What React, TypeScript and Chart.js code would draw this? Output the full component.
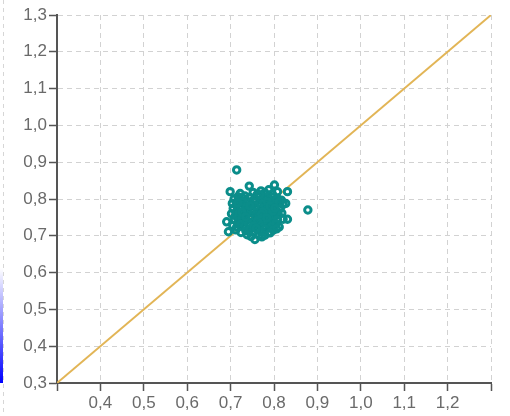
import React, { useEffect, useRef } from "react";
import { Chart, registerables } from "chart.js";

Chart.register(...registerables);

const tickValues = [0.3, 0.4, 0.5, 0.6, 0.7, 0.8, 0.9, 1.0, 1.1, 1.2, 1.3];
const hiddenXLabels = [0.3, 1.3];
const diagonalX = [0.3, 1.3];
const diagonalY = [0.3, 1.3];

const xValues = [
  0.699, 0.722, 0.743, 0.752, 0.761, 0.770, 0.779, 0.788, 0.796, 0.801, 0.808, 0.831, 0.733, 0.717,
  0.708, 0.718, 0.727, 0.736, 0.745, 0.754, 0.763, 0.772, 0.781, 0.790, 0.799, 0.808, 0.817,
  0.704, 0.713, 0.722, 0.731, 0.740, 0.749, 0.758, 0.767, 0.776, 0.785, 0.794, 0.803, 0.812, 0.821, 0.827,
  0.706, 0.715, 0.724, 0.733, 0.742, 0.751, 0.760, 0.769, 0.778, 0.787, 0.796, 0.805, 0.814, 0.878,
  0.702, 0.711, 0.720, 0.729, 0.738, 0.747, 0.756, 0.765, 0.774, 0.783, 0.792, 0.801, 0.810, 0.818,
  0.691, 0.709, 0.718, 0.727, 0.736, 0.745, 0.754, 0.763, 0.772, 0.781, 0.790, 0.799, 0.808, 0.821, 0.831,
  0.705, 0.714, 0.723, 0.732, 0.741, 0.750, 0.759, 0.768, 0.777, 0.786, 0.795, 0.804, 0.812,
  0.695, 0.712, 0.724, 0.735, 0.744, 0.753, 0.762, 0.771, 0.780, 0.789, 0.798, 0.806,
  0.738, 0.747, 0.756, 0.765, 0.779, 0.791, 0.772,
  0.748, 0.757, 0.766, 0.775, 0.784, 0.739, 0.762, 0.791, 0.753, 0.729, 0.714,
  0.744, 0.771, 0.797, 0.726, 0.783, 0.759, 0.735, 0.802, 0.767, 0.717,
];

const yValues = [
  0.820, 0.815, 0.835, 0.818, 0.812, 0.822, 0.817, 0.825, 0.814, 0.838, 0.820, 0.820, 0.808, 0.806,
  0.800, 0.797, 0.803, 0.796, 0.804, 0.799, 0.806, 0.798, 0.805, 0.799, 0.806, 0.801, 0.797,
  0.788, 0.784, 0.791, 0.785, 0.790, 0.783, 0.792, 0.786, 0.791, 0.784, 0.790, 0.786, 0.792, 0.785, 0.788,
  0.774, 0.769, 0.777, 0.771, 0.776, 0.768, 0.775, 0.770, 0.778, 0.772, 0.776, 0.769, 0.774, 0.770,
  0.760, 0.755, 0.762, 0.757, 0.761, 0.753, 0.759, 0.764, 0.756, 0.761, 0.754, 0.760, 0.757, 0.762,
  0.738, 0.744, 0.739, 0.747, 0.741, 0.746, 0.738, 0.744, 0.749, 0.741, 0.746, 0.739, 0.744, 0.745, 0.745,
  0.728, 0.724, 0.731, 0.726, 0.733, 0.722, 0.729, 0.734, 0.725, 0.731, 0.727, 0.733, 0.724,
  0.711, 0.716, 0.709, 0.714, 0.718, 0.710, 0.716, 0.712, 0.718, 0.709, 0.715, 0.719,
  0.703, 0.698, 0.690, 0.701, 0.702, 0.708, 0.697,
  0.770, 0.781, 0.752, 0.765, 0.793, 0.767, 0.741, 0.781, 0.727, 0.793, 0.879,
  0.782, 0.759, 0.767, 0.764, 0.749, 0.720, 0.752, 0.775, 0.812, 0.789,
];

const fmt = (v: number) => v.toFixed(1).replace(".", ",");

const leftDecor = {
  id: "leftDecor",
  beforeDraw(chart: any) {
    const { ctx, chartArea } = chart;
    ctx.save();
    ctx.strokeStyle = "#d6d6d6";
    ctx.lineWidth = 1;
    ctx.setLineDash([4, 4]);
    ctx.beginPath();
    ctx.moveTo(3.5, 0);
    ctx.lineTo(3.5, chart.height);
    ctx.stroke();
    const g = ctx.createLinearGradient(0, chartArea.bottom - 115, 0, chartArea.bottom);
    g.addColorStop(0, "rgba(0,0,255,0)");
    g.addColorStop(1, "rgba(0,0,255,1)");
    ctx.fillStyle = g;
    ctx.fillRect(0, chartArea.bottom - 115, 3, 115);
    ctx.restore();
  },
};

export default function App() {
  const ref = useRef<HTMLCanvasElement | null>(null);
  useEffect(() => {
    if (!ref.current) return;
    const font = { family: "'Liberation Sans', Arial, sans-serif", size: 17 };
    const axisCommon = {
      type: "linear" as const,
      min: 0.3,
      max: 1.3,
      border: { display: true, color: "#555", width: 2, dash: [5, 4] },
      grid: {
        color: "#d2d2d2",
        lineWidth: 1,
        tickLength: 8,
        tickColor: "#555",
        tickWidth: 1.5,
        tickBorderDash: [1, 0],
      },
      afterBuildTicks: (scale: any) => {
        scale.ticks = tickValues.map((v) => ({ value: v }));
      },
    };
    const chart = new Chart(ref.current, {
      type: "scatter",
      data: {
        datasets: [
          {
            data: xValues.map((x, i) => ({ x, y: yValues[i] })),
            borderColor: "#0b8d8a",
            backgroundColor: "rgba(0,0,0,0)",
            pointRadius: 3.2,
            borderWidth: 3,
            order: 0,
          },
          {
            type: "line" as any,
            data: diagonalX.map((x, i) => ({ x, y: diagonalY[i] })),
            borderColor: "#e2b556",
            borderWidth: 2,
            pointRadius: 0,
            showLine: true,
            fill: false,
            order: 1,
          } as any,
        ],
      },
      options: {
        animation: false,
        responsive: true,
        maintainAspectRatio: false,
        layout: { padding: { top: 15, right: 19, left: 0, bottom: 0 } },
        plugins: { legend: { display: false }, tooltip: { enabled: false } },
        scales: {
          x: {
            ...axisCommon,
            position: "bottom",
            afterFit: (scale: any) => {
              scale.height = 33;
            },
            ticks: {
              color: "#6a6a6a",
              font,
              padding: 2,
              maxRotation: 0,
              autoSkip: false,
              callback: (v: any) => (hiddenXLabels.some((h) => Math.abs(h - v) < 1e-6) ? "" : fmt(Number(v))),
            },
          },
          y: {
            ...axisCommon,
            position: "left",
            afterFit: (scale: any) => {
              scale.width = 57;
            },
            ticks: {
              color: "#6a6a6a",
              font,
              padding: 2,
              autoSkip: false,
              callback: (v: any) => fmt(Number(v)),
            },
          },
        },
      },
      plugins: [leftDecor],
    } as any);
    return () => chart.destroy();
  }, []);
  return (
    <div style={{ position: "fixed", left: 0, top: 0, width: 510, height: 416, background: "#fff" }}>
      <canvas ref={ref} />
    </div>
  );
}
